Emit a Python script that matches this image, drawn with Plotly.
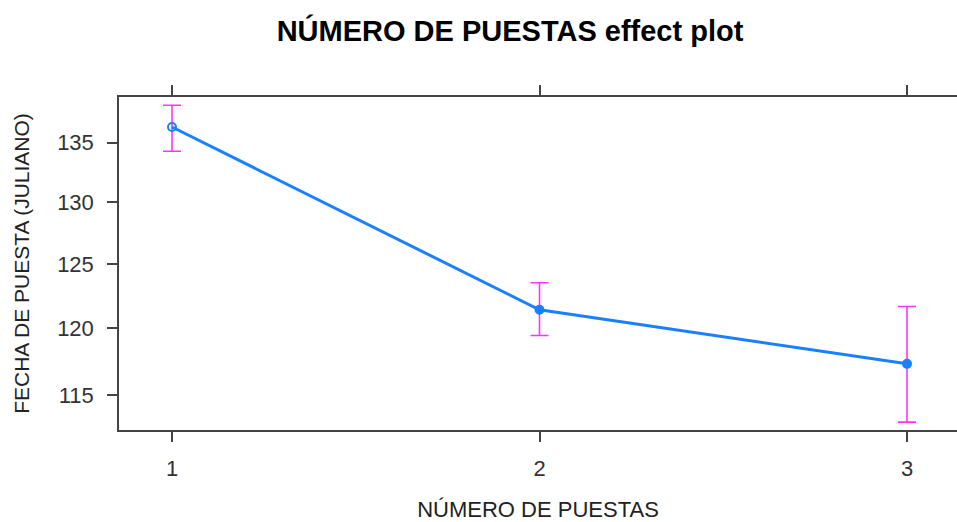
import numpy as np
import plotly.graph_objects as go

categories = [1, 2, 3]
fit = [136.34, 121.42, 117.33]
lower = [134.26, 119.46, 113.07]
upper = [138.23, 123.52, 121.68]
y_ticks = [115, 120, 125, 130, 135]
marker_symbols = ["circle-open", "circle", "circle"]

err_plus = [u - f for u, f in zip(upper, fit)]
err_minus = [f - l for f, l in zip(fit, lower)]

fig = go.Figure()
fig.add_trace(go.Scatter(
    x=categories, y=fit, mode="lines+markers",
    line=dict(color="#1a80ff", width=3),
    marker=dict(color="#1a80ff", size=8, symbol=marker_symbols,
                line=dict(color="#1a80ff", width=2)),
    error_y=dict(type="data", symmetric=False, array=err_plus, arrayminus=err_minus,
                 color="#ff33ff", thickness=1.6, width=9),
    showlegend=False,
))

fig.update_layout(
    width=957, height=522,
    margin=dict(l=119, r=0, t=97, b=92),
    paper_bgcolor="white", plot_bgcolor="white",
    font=dict(family="Liberation Sans, Arial, sans-serif", color="#222"),
    title=dict(text="<b>NÚMERO DE PUESTAS effect plot</b>", x=510/957, xref="container",
               xanchor="center", y=1-31/522, yanchor="middle", yref="container",
               font=dict(size=29, color="#000")),
    xaxis=dict(
        range=[1 - 53/367.5, 3 + 50/367.5],
        tickvals=categories, ticktext=[str(c) for c in categories],
        showline=True, linecolor="#444", linewidth=1.5, mirror="ticks",
        ticks="outside", ticklen=10, tickwidth=1.5, tickcolor="#444",
        ticklabelstandoff=8,
        showgrid=False, zeroline=False,
        tickfont=dict(size=22, color="#333"),
        title=dict(text="NÚMERO DE PUESTAS", font=dict(size=22, color="#222"), standoff=25),
    ),
    yaxis=dict(
        type="log",
        range=[np.log10(112.51), np.log10(138.96)],
        tickvals=y_ticks, ticktext=[str(t) for t in y_ticks],
        showline=True, linecolor="#444", linewidth=1.5, mirror=False,
        ticks="outside", ticklen=10, tickwidth=1.5, tickcolor="#444",
        ticklabelstandoff=9,
        showgrid=False, zeroline=False,
        tickfont=dict(size=22, color="#333"),
        title=dict(text="FECHA DE PUESTA (JULIANO)", font=dict(size=21, color="#222"), standoff=22),
    ),
)

fig.write_html("out.html")
